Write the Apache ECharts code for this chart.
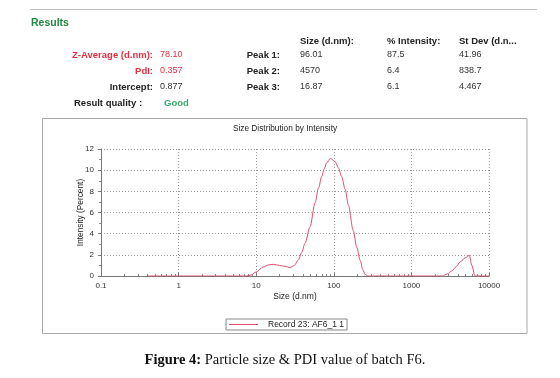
<!DOCTYPE html>
<html>
<head>
<meta charset="utf-8">
<script src="https://cdn.jsdelivr.net/npm/echarts@6/dist/echarts.min.js"></script>
<style>
html,body{margin:0;padding:0;background:#fff;}
#c{width:560px;height:378px;}
</style>
</head>
<body>
<div id="c"></div>
<script>
// ---- data ----
const sizes = [0.4, 1, 3, 7.6, 8.6, 10, 12.3, 14.5, 16.6, 20, 23.5, 27.3, 31, 34.9, 38.5, 42.6, 49.4, 57.3, 63.5, 69.8, 75, 81, 91, 104, 115, 126, 140, 154, 178, 198, 218, 237, 252, 277, 300, 1000, 2500, 2900, 3300, 3800, 4240, 4900, 5570, 6000, 6600, 8000, 10000];
const intensity = [0, 0, 0, 0, 0.1, 0.38, 0.85, 1.05, 1.1, 1.0, 0.92, 0.79, 1.0, 1.5, 2.2, 3.1, 4.65, 6.9, 8.3, 9.4, 10.1, 10.7, 11.1, 10.8, 10.2, 9.4, 8.2, 6.7, 4.3, 2.7, 1.5, 0.6, 0.15, 0, 0, 0, 0, 0.2, 0.47, 0.9, 1.33, 1.7, 1.96, 1.0, 0, 0, 0];
const seriesName = 'Record 23: AF6_1 1';
const headerCols = ['Size (d.nm):', '% Intensity:', 'St Dev (d.n...'];
const peakNames = ['Peak 1:', 'Peak 2:', 'Peak 3:'];
const peakSize = ['96.01', '4570', '16.87'];
const peakIntensity = ['87.5', '6.4', '6.1'];
const peakStDev = ['41.96', '838.7', '4.467'];
const summaryLabels = ['Z-Average (d.nm):', 'PdI:', 'Intercept:'];
const summaryValues = ['78.10', '0.357', '0.877'];
const quality = 'Good';

const minorXTicks = [];
for (let e = -1; e < 4; e++) {
  for (let m = 2; m <= 9; m++) minorXTicks.push(+(m * Math.pow(10, e)).toPrecision(3));
}

const font = 'Liberation Sans, Arial, sans-serif';
const red = '#e2303f';
const graphics = [];
function txt(x, y, text, opt) {
  graphics.push({type: 'text', x: x, y: y, silent: true, style: Object.assign({
    text: text, font: '9px ' + font, fill: '#333', textAlign: 'left', textVerticalAlign: 'middle'
  }, opt || {})});
}
const bold = 'bold 9.5px ' + font;
graphics.push({type: 'line', silent: true, shape: {x1: 30, y1: 9.5, x2: 537, y2: 9.5}, style: {stroke: '#bbb', lineWidth: 1}});
txt(31, 23, 'Results', {font: 'bold 10.5px ' + font, fill: '#1f8a3e'});
const rowY = [55, 71, 87];
const colX = [300, 387, 459];
headerCols.forEach((h, i) => txt(colX[i], 41, h, {font: bold, fill: '#222'}));
summaryLabels.forEach((s, i) => txt(153, rowY[i], s, {font: bold, fill: i < 2 ? red : '#222', textAlign: 'right'}));
summaryValues.forEach((s, i) => txt(160, rowY[i], s, {fill: i < 2 ? red : '#333'}));
txt(74, 103, 'Result quality :', {font: bold, fill: '#222'});
txt(164, 103, quality, {font: bold, fill: '#3aa870'});
peakNames.forEach((p, i) => txt(280, rowY[i], p, {font: bold, fill: '#222', textAlign: 'right'}));
peakSize.forEach((p, i) => txt(colX[0], rowY[i], p));
peakIntensity.forEach((p, i) => txt(colX[1], rowY[i], p));
peakStDev.forEach((p, i) => txt(colX[2], rowY[i], p));
graphics.push({type: 'rect', silent: true, shape: {x: 42.5, y: 118.5, width: 484.5, height: 215}, style: {fill: 'none', stroke: '#aaa', lineWidth: 1}});
txt(285, 129, 'Size Distribution by Intensity', {font: '8.3px ' + font, fill: '#222', textAlign: 'center'});
graphics.push({type: 'text', x: 285, y: 360, silent: true, style: {
  text: '{b|Figure 4:} Particle size & PDI value of batch F6.',
  font: '14.5px Liberation Serif, serif', fill: '#111', textAlign: 'center', textVerticalAlign: 'middle',
  rich: {b: {fontWeight: 'bold', fontFamily: 'Liberation Serif, serif', fontSize: 14.5}}
}});

const chart = echarts.init(document.getElementById('c'), null, {renderer: 'canvas'});
chart.setOption({
  animation: false,
  backgroundColor: '#fff',
  grid: {left: 101, right: 71, top: 149, bottom: 102},
  legend: {
    left: 226, top: 319, padding: [1, 3, 1, 3],
    borderColor: '#888', borderWidth: 1,
    itemWidth: 29, itemHeight: 1, icon: 'rect',
    textStyle: {fontSize: 8.5, fontFamily: font, color: '#222', padding: [0, 0, 0, 5]},
    data: [seriesName]
  },
  xAxis: [{
    type: 'log', logBase: 10, min: 0.1, max: 10000,
    name: 'Size (d.nm)', nameLocation: 'middle', nameGap: 16, nameMoveOverlap: false,
    nameTextStyle: {fontSize: 8.5, fontFamily: font, color: '#222'},
    axisLine: {show: true, lineStyle: {color: '#777', width: 1}},
    axisTick: {show: true, inside: true, length: 3, lineStyle: {color: '#777'}},
    axisLabel: {fontSize: 8, fontFamily: font, color: '#333', margin: 6,
      formatter: v => String(+v.toPrecision(3))},
    splitLine: {show: true, lineStyle: {color: '#999', type: [1, 2], width: 1}}
  }, {
    type: 'log', logBase: 10, min: 0.1, max: 10000, position: 'bottom',
    axisLine: {show: false}, axisLabel: {show: false}, splitLine: {show: false},
    axisTick: {show: true, inside: true, length: 2, customValues: minorXTicks, lineStyle: {color: '#888'}}
  }],
  yAxis: {
    type: 'value', min: 0, max: 12, interval: 2,
    name: 'Intensity (Percent)', nameLocation: 'middle', nameGap: 16, nameMoveOverlap: false,
    nameTextStyle: {fontSize: 8.3, fontFamily: font, color: '#222'},
    axisLine: {show: true, lineStyle: {color: '#777', width: 1}},
    axisTick: {show: true, length: 3, lineStyle: {color: '#777'}},
    minorTick: {show: true, splitNumber: 2, length: 2, lineStyle: {color: '#888'}},
    axisLabel: {fontSize: 8, fontFamily: font, color: '#333', margin: 7},
    splitLine: {show: true, lineStyle: {color: '#999', type: [1, 2], width: 1}}
  },
  series: [{
    name: seriesName, type: 'line', xAxisIndex: 0,
    data: sizes.map((s, i) => [s, intensity[i]]),
    showSymbol: false, symbol: 'none', smooth: 0.3, smoothMonotone: 'x',
    lineStyle: {color: '#db4f6d', width: 1}, itemStyle: {color: '#db4f6d'}
  }],
  graphic: graphics
});
</script>
</body>
</html>
